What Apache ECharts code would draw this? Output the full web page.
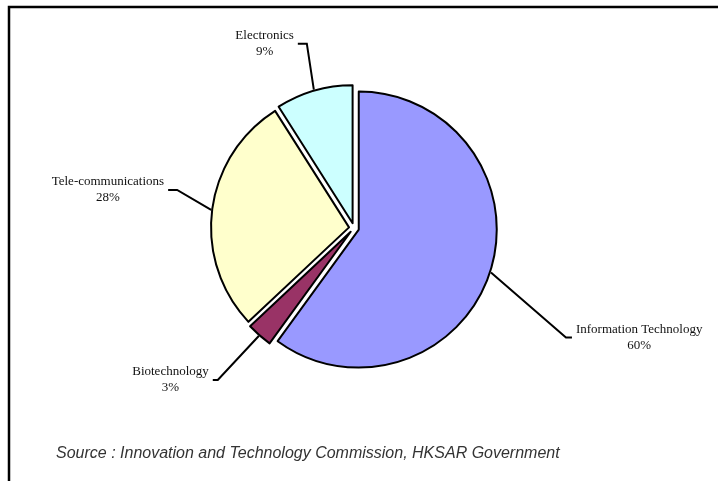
<!DOCTYPE html>
<html>
<head>
<meta charset="utf-8">
<script src="https://cdn.jsdelivr.net/npm/echarts@6/dist/echarts.min.js"></script>
<style>
  html, body { margin: 0; padding: 0; background: #fff; }
  #chart { width: 718px; height: 481px; }
</style>
</head>
<body>
<div id="chart"></div>
<script>
// Shares of technology sectors (%)
const categories = ['Information Technology', 'Biotechnology', 'Tele-communications', 'Electronics'];
const shares = [60, 3, 28, 9];
const sourceNote = 'Source : Innovation and Technology Commission, HKSAR Government';

// Styling and geometry
const sliceColors = ['#9999FF', '#993366', '#FFFFCC', '#CCFFFF'];
const CX = 354, CY = 228, R = 138, EXPLODE = 5;
// Leader line per slice: first leg [dx, dy] from the slice edge, then a horizontal run
const legs = [[75, 65, 6], [-41, 44, -5], [-34, -20, -9], [-7, -46, -9]];
const TEXT_GAP = 4;

const total = shares.reduce((a, b) => a + b, 0);
function midAngle(i) {
  let before = 0;
  for (let k = 0; k < i; k++) before += shares[k];
  const mid = before + shares[i] / 2;
  return (90 - mid / total * 360) * Math.PI / 180;
}

const chart = echarts.init(document.getElementById('chart'), null, { renderer: 'canvas' });

chart.setOption({
  backgroundColor: '#fff',
  animation: false,
  graphic: [
    {
      type: 'polyline',
      shape: { points: [[9, 500], [9, 7], [740, 7]] },
      style: { stroke: '#000', lineWidth: 2.5, fill: null }
    },
    {
      type: 'text',
      left: 56,
      top: 446,
      style: { text: sourceNote, font: 'italic 16px "Liberation Sans"', fill: '#333' }
    }
  ],
  series: [{
    type: 'pie',
    center: [CX, CY],
    radius: R,
    startAngle: 90,
    clockwise: true,
    selectedMode: 'multiple',
    selectedOffset: EXPLODE,
    avoidLabelOverlap: false,
    itemStyle: { borderColor: '#000', borderWidth: 2 },
    emphasis: { disabled: true },
    select: { itemStyle: { borderColor: '#000', borderWidth: 2 } },
    label: {
      show: true,
      position: 'outside',
      formatter: p => `{n|${p.name}}\n{n|${p.value}%}`,
      rich: {
        n: { align: 'center', fontFamily: 'Liberation Serif', fontSize: 13, lineHeight: 16, color: '#111' }
      }
    },
    labelLine: { show: true, length: 10, length2: 10, lineStyle: { color: '#000', width: 2 } },
    labelLayout: function (params) {
      const i = params.dataIndex;
      const a = midAngle(i);
      const ux = Math.cos(a), uy = -Math.sin(a);
      // label and leader line both ride along with the exploded slice,
      // so positions are expressed in the slice's unshifted frame
      const d = R + 1;
      const p0 = [CX + ux * d, CY + uy * d];
      const p1 = [p0[0] + legs[i][0], p0[1] + legs[i][1]];
      const p2 = [p1[0] + legs[i][2], p1[1]];
      const right = legs[i][2] > 0;
      const r = params.labelRect;
      const targetX = right ? p2[0] + TEXT_GAP : p2[0] - TEXT_GAP - r.width;
      const targetY = p2[1] - r.height / 2;
      return {
        dx: targetX - r.x,
        dy: targetY - r.y,
        labelLinePoints: [p0, p1, p2]
      };
    },
    data: categories.map((c, i) => ({
      name: c,
      value: shares[i],
      selected: true,
      itemStyle: { color: sliceColors[i] }
    }))
  }]
});
</script>
</body>
</html>
